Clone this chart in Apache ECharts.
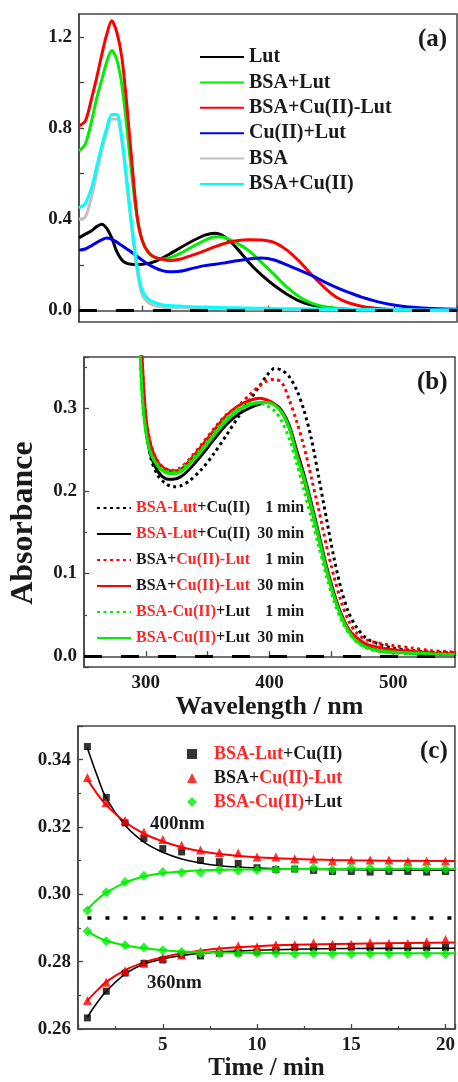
<!DOCTYPE html>
<html lang="en">
<head>
<meta charset="UTF-8">
<title>Absorbance</title>
<script src="https://cdn.jsdelivr.net/npm/echarts/dist/echarts.min.js"></script>
<style>
    html, body { margin: 0; padding: 0; background: #fff; }
    #chart { width: 458px; height: 1082px; }
</style>
</head>
<body>
<div id="chart"></div>
<script type="text/javascript">
    var FONT = 'Liberation Serif';
    var INK = '#1a1a1a';
    var RED_TXT = '#ff2626';

    // ---- panel (a): spectra ----
    var wlA = [250, 255, 260, 264, 268, 272, 276, 280, 284, 288, 292, 296, 300, 305, 310, 316, 322, 330, 340,
        350, 358, 366, 375, 385, 395, 405, 415, 425, 435, 445, 455, 465, 475, 490, 505, 520, 535, 550];
    var lutA = [0.318, 0.335, 0.35, 0.368, 0.378, 0.36, 0.318, 0.258, 0.222, 0.207, 0.203, 0.202, 0.203, 0.207, 0.215, 0.23, 0.248, 0.274, 0.305,
        0.331, 0.339, 0.322, 0.275, 0.21, 0.155, 0.11, 0.072, 0.042, 0.024, 0.014, 0.008, 0.005, 0.004, 0.003, 0.002, 0.002, 0.002, 0.002];
    var bsaLutA = [0.70, 0.73, 0.83, 0.93, 1.01, 1.09, 1.14, 1.10, 0.99, 0.80, 0.59, 0.41, 0.31, 0.255, 0.232, 0.226, 0.232, 0.25, 0.28,
        0.308, 0.324, 0.32, 0.297, 0.262, 0.21, 0.158, 0.103, 0.06, 0.032, 0.017, 0.01, 0.006, 0.004, 0.003, 0.002, 0.002, 0.002, 0.002];
    var bsaCuLutA = [0.81, 0.83, 0.93, 1.02, 1.12, 1.21, 1.27, 1.22, 1.11, 0.90, 0.65, 0.42, 0.31, 0.255, 0.235, 0.225, 0.22, 0.225, 0.243,
        0.263, 0.28, 0.295, 0.306, 0.311, 0.309, 0.298, 0.265, 0.215, 0.155, 0.10, 0.056, 0.032, 0.018, 0.008, 0.004, 0.003, 0.002, 0.002];
    var cuLutA = [0.265, 0.27, 0.285, 0.298, 0.31, 0.318, 0.312, 0.30, 0.285, 0.27, 0.255, 0.238, 0.222, 0.203, 0.188, 0.175, 0.17, 0.172, 0.185,
        0.197, 0.203, 0.21, 0.218, 0.226, 0.23, 0.222, 0.20, 0.177, 0.153, 0.125, 0.10, 0.078, 0.058, 0.035, 0.02, 0.012, 0.008, 0.006];
    var bsaA = [0.40, 0.41, 0.50, 0.60, 0.70, 0.78, 0.84, 0.84, 0.74, 0.55, 0.35, 0.18, 0.07, 0.035, 0.022, 0.016, 0.013, 0.012, 0.011,
        0.01, 0.009, 0.008, 0.008, 0.007, 0.007, 0.006, 0.006, 0.005, 0.005, 0.004, 0.004, 0.004, 0.003, 0.003, 0.003, 0.002, 0.002, 0.002];
    var bsaCuA = [0.45, 0.47, 0.54, 0.63, 0.72, 0.80, 0.86, 0.86, 0.76, 0.57, 0.37, 0.20, 0.09, 0.05, 0.035, 0.026, 0.022, 0.02, 0.017,
        0.015, 0.014, 0.013, 0.012, 0.011, 0.01, 0.009, 0.008, 0.008, 0.007, 0.006, 0.006, 0.005, 0.005, 0.004, 0.004, 0.003, 0.003, 0.003];

    // ---- panel (b): 1 min (dotted) vs 30 min (solid) ----
    var wlB = [294, 297, 300, 304, 310, 316, 322, 328, 335, 345, 355, 365, 375, 385, 392, 398, 404, 410, 416,
        422, 428, 434, 440, 446, 452, 458, 464, 470, 478, 488, 500, 515, 530, 550];
    var lutCu1 = [0.46, 0.34, 0.28, 0.24, 0.218, 0.209, 0.205, 0.206, 0.212, 0.226, 0.245, 0.267, 0.29, 0.312, 0.327, 0.34, 0.348, 0.346, 0.338,
        0.322, 0.297, 0.262, 0.215, 0.167, 0.12, 0.081, 0.053, 0.036, 0.022, 0.015, 0.01, 0.007, 0.005, 0.004];
    var lutCu30 = [0.45, 0.33, 0.275, 0.243, 0.223, 0.215, 0.214, 0.217, 0.226, 0.243, 0.262, 0.28, 0.293, 0.301, 0.305, 0.307, 0.305, 0.297, 0.279,
        0.249, 0.219, 0.184, 0.147, 0.109, 0.077, 0.051, 0.032, 0.02, 0.012, 0.007, 0.005, 0.004, 0.003, 0.002];
    var cuLut1 = [0.48, 0.36, 0.29, 0.256, 0.235, 0.227, 0.225, 0.228, 0.238, 0.256, 0.275, 0.292, 0.303, 0.318, 0.327, 0.333, 0.335, 0.331, 0.31,
        0.284, 0.253, 0.215, 0.176, 0.134, 0.097, 0.066, 0.043, 0.029, 0.02, 0.016, 0.013, 0.01, 0.007, 0.005];
    var cuLut30 = [0.48, 0.36, 0.29, 0.255, 0.234, 0.226, 0.224, 0.226, 0.236, 0.254, 0.273, 0.291, 0.303, 0.31, 0.312, 0.31, 0.305, 0.295, 0.276,
        0.246, 0.213, 0.178, 0.142, 0.105, 0.074, 0.05, 0.033, 0.023, 0.015, 0.011, 0.008, 0.006, 0.004, 0.003];
    var cuPlusLut1 = [0.42, 0.315, 0.272, 0.246, 0.231, 0.224, 0.223, 0.226, 0.235, 0.251, 0.27, 0.288, 0.30, 0.306, 0.306, 0.303, 0.297, 0.284, 0.263,
        0.233, 0.20, 0.166, 0.132, 0.097, 0.067, 0.044, 0.028, 0.018, 0.01, 0.006, 0.004, 0.003, 0.002, 0.002];
    var cuPlusLut30 = [0.42, 0.316, 0.272, 0.245, 0.229, 0.222, 0.221, 0.223, 0.232, 0.248, 0.267, 0.285, 0.298, 0.305, 0.307, 0.307, 0.304, 0.295, 0.276,
        0.243, 0.215, 0.18, 0.143, 0.105, 0.073, 0.048, 0.03, 0.019, 0.011, 0.007, 0.005, 0.004, 0.003, 0.002];

    // ---- panel (c): kinetics at 400 nm / 360 nm ----
    var times = [1, 2, 3, 4, 5, 6, 7, 8, 9, 10, 11, 12, 13, 14, 15, 16, 17, 18, 19, 20];
    var sq400 = [0.3439, 0.3288, 0.3212, 0.3166, 0.3136, 0.3126, 0.3101, 0.3097, 0.3092, 0.3079, 0.3074, 0.3075, 0.3071, 0.3068, 0.3068, 0.3066, 0.3068, 0.3068, 0.3066, 0.3068];
    var tri400 = [0.3347, 0.3273, 0.3219, 0.3185, 0.3163, 0.3146, 0.3132, 0.3124, 0.3123, 0.3111, 0.3111, 0.3106, 0.3105, 0.3099, 0.3102, 0.3102, 0.3102, 0.3098, 0.3099, 0.3099];
    var dia400 = [0.2952, 0.3006, 0.3037, 0.3055, 0.3066, 0.3065, 0.3065, 0.3072, 0.307, 0.3072, 0.3073, 0.3075, 0.3078, 0.3074, 0.3078, 0.3078, 0.3077, 0.308, 0.3076, 0.3075];
    var sq360 = [0.2633, 0.2712, 0.2766, 0.2795, 0.2805, 0.282, 0.2817, 0.2825, 0.2826, 0.2829, 0.2834, 0.2842, 0.2842, 0.2842, 0.2843, 0.2842, 0.2842, 0.2842, 0.2842, 0.2842];
    var tri360 = [0.2685, 0.2739, 0.2773, 0.2795, 0.2812, 0.282, 0.283, 0.2837, 0.2847, 0.2844, 0.285, 0.285, 0.2856, 0.2852, 0.2852, 0.2857, 0.2855, 0.2854, 0.2859, 0.2866];
    var dia360 = [0.289, 0.2861, 0.2849, 0.2842, 0.2834, 0.2829, 0.2825, 0.2825, 0.2824, 0.2825, 0.2825, 0.2823, 0.2824, 0.2823, 0.2822, 0.2823, 0.2823, 0.2823, 0.2823, 0.2822];
    // fitted curves
    var fitT = [1, 1.5, 2, 3, 4, 5, 6, 7, 8, 10, 12, 15, 20.5];
    var fitSq400 = [0.3435, 0.3355, 0.3285, 0.3205, 0.3155, 0.3125, 0.3105, 0.3093, 0.3085, 0.3078, 0.3075, 0.3073, 0.3072];
    var fitTri400 = [0.3342, 0.33, 0.3265, 0.3215, 0.318, 0.3157, 0.314, 0.3128, 0.312, 0.311, 0.3105, 0.3101, 0.3099];
    var fitDia400 = [0.2955, 0.2983, 0.3005, 0.3035, 0.3053, 0.3063, 0.3068, 0.3071, 0.3073, 0.3074, 0.3075, 0.3075, 0.3075];
    var fitSq360 = [0.2635, 0.2677, 0.2712, 0.2763, 0.2793, 0.2808, 0.2818, 0.2825, 0.2829, 0.2834, 0.2837, 0.2839, 0.284];
    var fitTri360 = [0.2685, 0.2714, 0.274, 0.2775, 0.2798, 0.2813, 0.2825, 0.2833, 0.2839, 0.2846, 0.285, 0.2853, 0.2857];
    var fitDia360 = [0.289, 0.2874, 0.2862, 0.2848, 0.284, 0.2834, 0.283, 0.2828, 0.2827, 0.2826, 0.2825, 0.2825, 0.2825];
    var refLevel = 0.293;
    var refSpan = [1, 20.5];

    function pairs(xs, ys) {
        return xs.map(function (x, i) { return [x, ys[i]]; });
    }

    function txt(size) {
        return {fontFamily: FONT, fontWeight: 'bold', fontSize: size, color: INK};
    }

    var frame = {show: true, lineStyle: {color: '#444', width: 1.5}};
    var tickIn = {show: true, inside: true, length: 5, lineStyle: {color: '#444', width: 1.3}};
    var minorIn = {show: true, length: 3, splitNumber: 2, lineStyle: {color: '#444', width: 1.2}};

    var chart = echarts.init(document.getElementById('chart'));

    // spectral line series
    function specLine(name, gi, xs, ys, color, type) {
        return {
            type: 'line', name: name, xAxisIndex: gi, yAxisIndex: gi,
            data: pairs(xs, ys), smooth: 0.3, symbol: 'none',
            lineStyle: {color: color, width: 3, type: type || 'solid'},
            itemStyle: {color: color}
        };
    }

    function zeroLine() {
        return {
            silent: true, symbol: ['none', 'none'], label: {show: false},
            lineStyle: {color: '#000', width: 3, type: [18, 19]},
            data: [{yAxis: 0}]
        };
    }

    var seriesA = [
        specLine('Lut', 0, wlA, lutA, '#000000'),
        specLine('BSA+Lut', 0, wlA, bsaLutA, '#00ee00'),
        specLine('BSA+Cu(II)-Lut', 0, wlA, bsaCuLutA, '#ff0000'),
        specLine('Cu(II)+Lut', 0, wlA, cuLutA, '#0000ee'),
        specLine('BSA', 0, wlA, bsaA, '#c0c0c0'),
        specLine('BSA+Cu(II)', 0, wlA, bsaCuA, '#00ffff')
    ];
    seriesA[0].markLine = zeroLine();

    var DOT = [3, 3.5];
    var seriesB = [
        specLine('b1', 1, wlB, lutCu1, '#000000', DOT),
        specLine('b2', 1, wlB, lutCu30, '#000000'),
        specLine('b3', 1, wlB, cuLut1, '#ff0000', DOT),
        specLine('b4', 1, wlB, cuLut30, '#ff0000'),
        specLine('b5', 1, wlB, cuPlusLut1, '#00ee00', DOT),
        specLine('b6', 1, wlB, cuPlusLut30, '#00ee00')
    ];
    seriesB[0].markLine = zeroLine();

    function fitLine(name, ys, color, w) {
        return {
            type: 'line', name: name, xAxisIndex: 2, yAxisIndex: 2,
            data: pairs(fitT, ys), smooth: 0.4, symbol: 'none',
            lineStyle: {color: color, width: w}
        };
    }

    function dots(name, ys, color, symbol, size) {
        return {
            type: 'scatter', name: name, xAxisIndex: 2, yAxisIndex: 2,
            data: pairs(times, ys), symbol: symbol, symbolSize: size,
            itemStyle: {color: color}, z: 5
        };
    }

    var seriesC = [
        fitLine('f1', fitSq400, '#000000', 1.6),
        fitLine('f2', fitTri400, '#ff0000', 2),
        fitLine('f3', fitDia400, '#00ee00', 2),
        fitLine('f4', fitSq360, '#000000', 1.6),
        fitLine('f5', fitTri360, '#ff0000', 2),
        fitLine('f6', fitDia360, '#00ee00', 2),
        dots('c1', sq400, '#000000', 'rect', 7),
        dots('c2', tri400, '#ff0000', 'triangle', 9),
        dots('c3', dia400, '#00ee00', 'diamond', 10),
        dots('c1', sq360, '#000000', 'rect', 7),
        dots('c2', tri360, '#ff0000', 'triangle', 9),
        dots('c3', dia360, '#00ee00', 'diamond', 10)
    ];
    seriesC[0].markLine = {
        silent: true, symbol: ['none', 'none'], label: {show: false},
        lineStyle: {color: '#000', width: 3.5, type: [4, 14]},
        data: [[{coord: [refSpan[0], refLevel]}, {coord: [refSpan[1], refLevel]}]]
    };

    // rich legend labels (red / black parts)
    function richSet(size) {
        return {
            r: {fontFamily: FONT, fontWeight: 'bold', fontSize: size, color: RED_TXT},
            k: {fontFamily: FONT, fontWeight: 'bold', fontSize: size, color: INK},
            t: {fontFamily: FONT, fontWeight: 'bold', fontSize: size, color: INK, width: 54, align: 'right'},
            sp: {width: 12}
        };
    }
    var labB = {
        b1: '{r|BSA-Lut}{k|+Cu(II)}{t|1 min}',
        b2: '{r|BSA-Lut}{k|+Cu(II)}{t|30 min}',
        b3: '{k|BSA+}{r|Cu(II)-Lut}{t|1 min}',
        b4: '{k|BSA+}{r|Cu(II)-Lut}{t|30 min}',
        b5: '{r|BSA-Cu(II)}{k|+Lut}{t|1 min}',
        b6: '{r|BSA-Cu(II)}{k|+Lut}{t|30 min}'
    };
    var labC = {
        c1: '{sp|}{r|BSA-Lut}{k|+Cu(II)}',
        c2: '{sp|}{k|BSA+}{r|Cu(II)-Lut}',
        c3: '{sp|}{r|BSA-Cu(II)}{k|+Lut}'
    };

    var option = {
        backgroundColor: '#fff',
        animation: false,
        grid: [
            {left: 79, top: 14, width: 378, height: 308, show: true, borderColor: '#444', borderWidth: 1.5},
            {left: 79, top: 357, width: 378, height: 310, show: true, borderColor: '#444', borderWidth: 1.5},
            {left: 78, top: 726, width: 380, height: 307, show: true, borderColor: '#444', borderWidth: 1.5}
        ],
        xAxis: [
            {
                gridIndex: 0, type: 'value', min: 250, max: 550, interval: 50,
                axisLine: frame, axisTick: tickIn, splitLine: {show: false},
                axisLabel: {show: false}
            },
            {
                gridIndex: 1, type: 'value', min: 250, max: 550, interval: 50,
                axisLine: frame, axisTick: tickIn, splitLine: {show: false},
                axisLabel: Object.assign(txt(19), {
                    margin: 7,
                    formatter: function (v) { return v % 100 === 0 ? String(v) : ''; }
                }),
                name: 'Wavelength / nm', nameLocation: 'middle', nameGap: 25,
                nameTextStyle: txt(26)
            },
            {
                gridIndex: 2, type: 'value', min: 0.5, max: 20.5, splitNumber: 4,
                axisLine: frame, axisTick: tickIn, minorTick: minorIn, splitLine: {show: false},
                axisLabel: Object.assign(txt(19), {margin: 7, showMinLabel: false, showMaxLabel: false}),
                name: 'Time / min', nameLocation: 'middle', nameGap: 27,
                nameTextStyle: txt(25)
            }
        ],
        yAxis: [
            {
                gridIndex: 0, type: 'value', min: -0.05, max: 1.3, splitNumber: 7,
                axisLine: frame, axisTick: tickIn, splitLine: {show: false},
                axisLabel: Object.assign(txt(19), {
                    margin: 7, showMinLabel: false, showMaxLabel: false,
                    formatter: function (v) {
                        var k = v / 0.4;
                        return Math.abs(k - Math.round(k)) < 1e-6 ? Math.abs(v).toFixed(1) : '';
                    }
                })
            },
            {
                gridIndex: 1, type: 'value', min: -0.013, max: 0.362, splitNumber: 4,
                axisLine: frame, axisTick: tickIn, minorTick: minorIn, splitLine: {show: false},
                axisLabel: Object.assign(txt(19), {
                    margin: 7, showMinLabel: false, showMaxLabel: false,
                    formatter: function (v) { return Math.abs(v).toFixed(1); }
                }),
                name: 'Absorbance', nameLocation: 'middle', nameGap: 44,
                nameTextStyle: Object.assign(txt(32), {padding: [0, 22, 0, 0]})
            },
            {
                gridIndex: 2, type: 'value', min: 0.26, max: 0.35, interval: 0.02,
                axisLine: frame, axisTick: tickIn, minorTick: minorIn, splitLine: {show: false},
                axisLabel: Object.assign(txt(19), {
                    margin: 7, showMaxLabel: false,
                    formatter: function (v) { return v.toFixed(2); }
                })
            }
        ],
        legend: [
            {
                data: ['Lut', 'BSA+Lut', 'BSA+Cu(II)-Lut', 'Cu(II)+Lut', 'BSA', 'BSA+Cu(II)'],
                orient: 'vertical', left: 194, top: 42, itemWidth: 44, itemHeight: 14, itemGap: 5.4,
                selectedMode: false, itemStyle: {opacity: 0},
                textStyle: Object.assign(txt(20), {lineHeight: 20})
            },
            {
                data: ['b1', 'b2', 'b3', 'b4', 'b5', 'b6'],
                orient: 'vertical', left: 91, top: 494, itemWidth: 34, itemHeight: 12, itemGap: 8,
                selectedMode: false, itemStyle: {opacity: 0},
                formatter: function (n) { return labB[n]; },
                textStyle: Object.assign(txt(16), {lineHeight: 18, rich: richSet(16)})
            },
            {
                data: [{name: 'c1', icon: 'rect'}, {name: 'c2', icon: 'triangle'}, {name: 'c3', icon: 'diamond'}],
                orient: 'vertical', left: 182, top: 740, itemWidth: 10, itemHeight: 10, itemGap: 6,
                selectedMode: false,
                formatter: function (n) { return labC[n]; },
                textStyle: Object.assign(txt(18), {lineHeight: 18, rich: richSet(18)})
            }
        ],
        graphic: [
            {type: 'text', left: 418, top: 27, style: {text: '(a)', font: 'bold 25px "Liberation Serif"', fill: INK}},
            {type: 'text', left: 417, top: 370, style: {text: '(b)', font: 'bold 25px "Liberation Serif"', fill: INK}},
            {type: 'text', left: 420, top: 739, style: {text: '(c)', font: 'bold 25px "Liberation Serif"', fill: INK}},
            {type: 'text', left: 150, top: 815, style: {text: '400nm', font: 'bold 19px "Liberation Serif"', fill: INK}},
            {type: 'text', left: 147, top: 974, style: {text: '360nm', font: 'bold 19px "Liberation Serif"', fill: INK}}
        ],
        series: seriesA.concat(seriesB, seriesC)
    };
    chart.setOption(option);
</script>
</body>
</html>
